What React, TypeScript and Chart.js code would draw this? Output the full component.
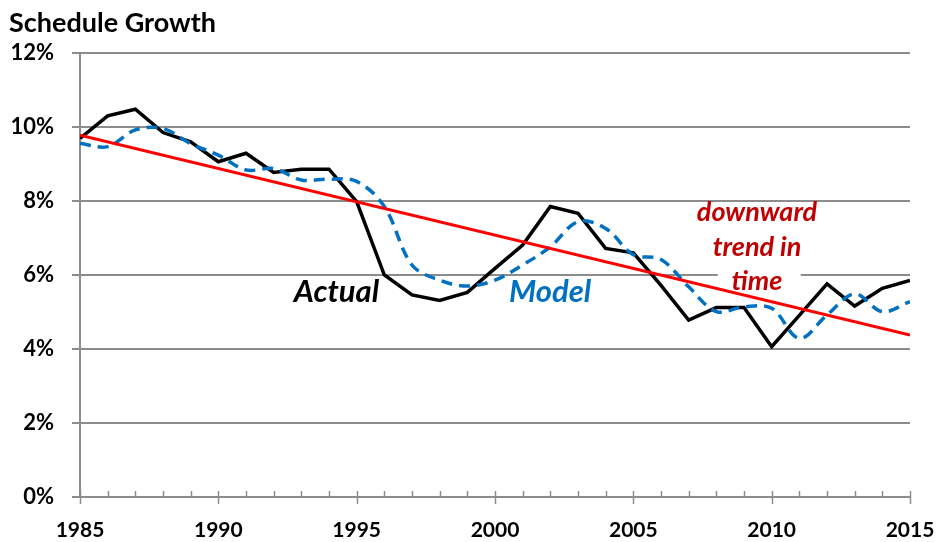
import React, { useEffect, useRef } from "react";
import { Chart, registerables } from "chart.js";

Chart.register(...registerables);

const years = [1985, 1986, 1987, 1988, 1989, 1990, 1991, 1992, 1993, 1994, 1995, 1996, 1997, 1998, 1999, 2000, 2001, 2002, 2003, 2004, 2005, 2006, 2007, 2008, 2009, 2010, 2011, 2012, 2013, 2014, 2015];
const actual = [9.69, 10.30, 10.48, 9.85, 9.60, 9.06, 9.29, 8.77, 8.86, 8.86, 7.98, 6.00, 5.46, 5.31, 5.53, 6.18, 6.81, 7.85, 7.67, 6.72, 6.60, 5.72, 4.78, 5.12, 5.12, 4.06, 4.91, 5.76, 5.16, 5.64, 5.85];
const model = [9.56, 9.47, 9.92, 9.96, 9.55, 9.24, 8.84, 8.88, 8.57, 8.59, 8.53, 7.85, 6.27, 5.86, 5.70, 5.86, 6.27, 6.76, 7.44, 7.26, 6.55, 6.42, 5.68, 5.01, 5.14, 5.10, 4.29, 4.92, 5.49, 5.01, 5.28];
const trendYears = [1985, 2015];
const trendValues = [9.78, 4.38];
const yTicks = [0, 2, 4, 6, 8, 10, 12];
const xTickLabels = [1985, 1990, 1995, 2000, 2005, 2010, 2015];

const FONT = "Lato, 'Open Sans', sans-serif";

const annotPlugin = {
  id: "annot",
  beforeDatasetsDraw(chart: any) {
    const { ctx } = chart;
    const xs = chart.scales.x;
    const ys = chart.scales.y;
    ctx.save();
    ctx.fillStyle = "#ffffff";
    const x1 = xs.getPixelForValue(2008.05);
    const x2 = xs.getPixelForValue(2011.05);
    const yc = ys.getPixelForValue(5.95);
    ctx.fillRect(x1, yc - 13, x2 - x1, 26);
    ctx.restore();
  },
  afterDatasetsDraw(chart: any) {
    const { ctx } = chart;
    const xs = chart.scales.x;
    const ys = chart.scales.y;
    ctx.save();
    ctx.textAlign = "center";
    ctx.textBaseline = "middle";
    ctx.font = `italic bold 31px ${FONT}`;
    ctx.fillStyle = "#000000";
    ctx.fillText("Actual", xs.getPixelForValue(1994.27), ys.getPixelForValue(5.55));
    ctx.fillStyle = "#0070C0";
    ctx.fillText("Model", xs.getPixelForValue(2001.99), ys.getPixelForValue(5.55));
    ctx.font = `italic bold 27px ${FONT}`;
    ctx.fillStyle = "#C00000";
    const cx = xs.getPixelForValue(2009.47);
    ctx.fillText("downward", cx, ys.getPixelForValue(7.69));
    ctx.fillText("trend in", cx, ys.getPixelForValue(6.75));
    ctx.fillText("time", cx, ys.getPixelForValue(5.84));
    ctx.restore();
  },
  afterDraw(chart: any) {
    const { ctx } = chart;
    const xs = chart.scales.x;
    const bottom = chart.chartArea.bottom;
    ctx.save();
    ctx.strokeStyle = "#8c8c8c";
    ctx.lineWidth = 1.5;
    for (const yr of years) {
      const px = Math.round(xs.getPixelForValue(yr)) + 0.5;
      const major = (yr - 1985) % 5 === 0;
      ctx.beginPath();
      ctx.moveTo(px, bottom - 6);
      ctx.lineTo(px, major ? bottom + 7 : bottom);
      ctx.stroke();
    }
    ctx.font = `bold 27px ${FONT}`;
    ctx.fillStyle = "#000000";
    ctx.textAlign = "left";
    ctx.textBaseline = "alphabetic";
    ctx.fillText("Schedule Growth", 9, 32);
    ctx.restore();
  },
};

export default function App() {
  const ref = useRef<HTMLCanvasElement | null>(null);
  useEffect(() => {
    if (!ref.current) return;
    const chart = new Chart(ref.current, {
      type: "line",
      data: {
        datasets: [
          {
            label: "Trend",
            data: trendYears.map((x, i) => ({ x, y: trendValues[i] })),
            borderColor: "#FF0000",
            borderWidth: 3,
            pointRadius: 0,
            tension: 0,
          },
          {
            label: "Model",
            data: years.map((x, i) => ({ x, y: model[i] })),
            borderColor: "#0070C0",
            borderWidth: 3.5,
            borderDash: [11, 7],
            pointRadius: 0,
            tension: 0.35,
          },
          {
            label: "Actual",
            data: years.map((x, i) => ({ x, y: actual[i] })),
            borderColor: "#000000",
            borderWidth: 3.5,
            pointRadius: 0,
            tension: 0,
          },
        ],
      },
      options: {
        animation: false,
        responsive: false,
        maintainAspectRatio: false,
        layout: { padding: { top: 53, right: 30, left: 0, bottom: 0 } },
        plugins: { legend: { display: false }, tooltip: { enabled: false }, title: { display: false } },
        scales: {
          x: {
            type: "linear",
            min: 1985,
            max: 2015,
            afterBuildTicks: (s: any) => {
              s.ticks = xTickLabels.map((v) => ({ value: v }));
            },
            afterFit: (s: any) => {
              s.height = 45;
              s.paddingLeft = 0;
              s.paddingRight = 0;
            },
            grid: { display: false },
            border: { display: true, color: "#8c8c8c", width: 2 },
            ticks: {
              padding: 13,
              color: "#000000",
              font: { family: FONT, size: 21, weight: "bold" },
              callback: (v: any) => String(v),
              maxRotation: 0,
              autoSkip: false,
            },
          },
          y: {
            min: 0,
            max: 12,
            afterBuildTicks: (s: any) => {
              s.ticks = yTicks.map((v) => ({ value: v }));
            },
            afterFit: (s: any) => {
              s.width = 80;
              s.paddingTop = 0;
              s.paddingBottom = 0;
            },
            grid: { color: "#8c8c8c", lineWidth: 2, tickLength: 8 },
            border: { display: true, color: "#8c8c8c", width: 2 },
            ticks: {
              padding: 18,
              color: "#000000",
              font: { family: FONT, size: 22, weight: "bold" },
              callback: (v: any) => v + "%",
            },
          },
        },
      },
      plugins: [annotPlugin],
    });
    return () => chart.destroy();
  }, []);
  return (
    <div style={{ position: "absolute", left: 0, top: 0, width: 940, height: 542, background: "#fff" }}>
      <canvas ref={ref} width={940} height={542} style={{ width: 940, height: 542 }} />
    </div>
  );
}
